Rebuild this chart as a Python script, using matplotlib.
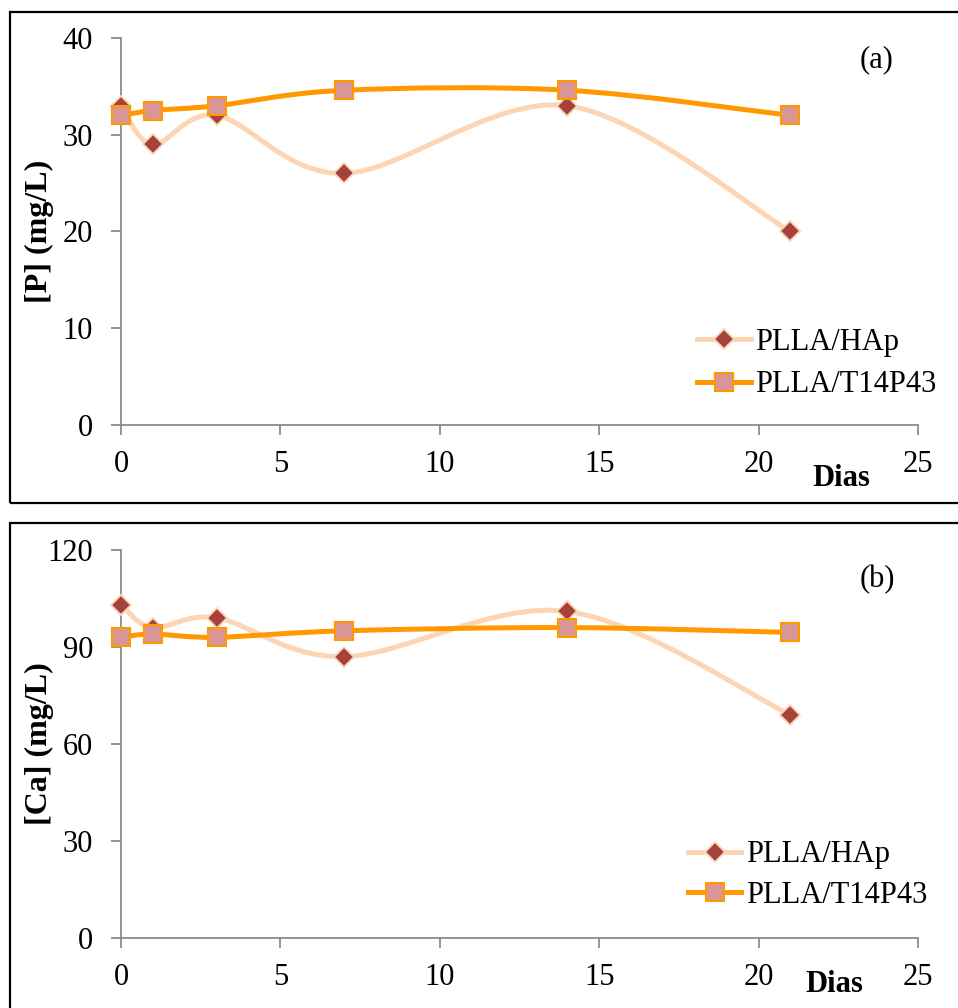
import matplotlib
matplotlib.use('Agg')
import matplotlib.pyplot as plt
from matplotlib.path import Path
from matplotlib.patches import PathPatch, Rectangle
from matplotlib.lines import Line2D

plt.rcParams['font.family'] = ['Liberation Serif', 'DejaVu Serif']

# Data
dias = [0, 1, 3, 7, 14, 21]
p_hap = [33, 29, 32, 26, 33, 20]
p_t14 = [32, 32.5, 33, 34.6, 34.6, 32]
ca_hap = [103, 96, 99, 87, 101, 69]
ca_t14 = [93, 94, 93, 95, 96, 94.5]

serie_labels = ['PLLA/HAp', 'PLLA/T14P43']

# Styles
peach = '#FCD5B5'
dark_red = '#A5423E'
orange = '#FF9900'
pink = '#D99694'
gray = '#8C8C8C'
fs = 22


def smooth_path(x, y):
    # Excel-like smoothed line: Bezier segments with Catmull-Rom control points
    pts = list(zip(x, y))
    n = len(pts)
    verts = [pts[0]]
    codes = [Path.MOVETO]
    for i in range(n - 1):
        p0 = pts[i - 1] if i > 0 else pts[i]
        p1 = pts[i]
        p2 = pts[i + 1]
        p3 = pts[i + 2] if i + 2 < n else pts[i + 1]
        c1 = (p1[0] + (p2[0] - p0[0]) / 6, p1[1] + (p2[1] - p0[1]) / 6)
        c2 = (p2[0] - (p3[0] - p1[0]) / 6, p2[1] - (p3[1] - p1[1]) / 6)
        verts += [c1, c2, p2]
        codes += [Path.CURVE4] * 3
    return Path(verts, codes)


def draw_panel(ax, hap, t14, ymax, ystep, ylabel, leg_anchor, leg_space):
    ax.add_patch(PathPatch(smooth_path(dias, hap), fill=False, edgecolor=peach,
                           lw=3.6, capstyle='round', zorder=2))
    ax.plot(dias, hap, ls='none', marker='D', ms=10, mfc=dark_red, mec=peach,
            mew=1.3, zorder=3, clip_on=False)
    ax.add_patch(PathPatch(smooth_path(dias, t14), fill=False, edgecolor=orange,
                           lw=3.6, capstyle='round', zorder=4))
    ax.plot(dias, t14, ls='none', marker='s', ms=13.5, mfc=pink, mec=orange,
            mew=1.5, zorder=5, clip_on=False)

    ax.set_xlim(0, 25)
    ax.set_ylim(0, ymax)
    ax.set_xticks(range(0, 26, 5))
    ax.set_yticks(range(0, ymax + 1, ystep))
    for s in ['top', 'right']:
        ax.spines[s].set_visible(False)
    for s in ['left', 'bottom']:
        ax.spines[s].set_color(gray)
        ax.spines[s].set_linewidth(1.3)
    ax.tick_params(direction='out', length=7, width=1.3, color=gray,
                   labelsize=fs)
    ax.tick_params(axis='x', pad=11)
    ax.tick_params(axis='y', pad=13)
    ax.set_ylabel(ylabel, fontsize=23, fontweight='bold')
    ax.yaxis.set_label_coords(-0.084, 0.5)

    handles = [
        Line2D([], [], color=peach, lw=3.6, marker='D', ms=10, mfc=dark_red,
               mec=peach, mew=1.3),
        Line2D([], [], color=orange, lw=3.6, marker='s', ms=13.5, mfc=pink,
               mec=orange, mew=1.5),
    ]
    fig.legend(handles, serie_labels, loc='center left',
               bbox_to_anchor=leg_anchor, bbox_transform=fig.transFigure,
               frameon=False, fontsize=fs, handlelength=1.75,
               handletextpad=0.15, labelspacing=leg_space, borderpad=0,
               borderaxespad=0, numpoints=1)


fig = plt.figure(figsize=(9.58, 10.08), dpi=100)
ax1 = fig.add_axes([0.1263, 0.5784, 0.8319, 0.3839])
ax2 = fig.add_axes([0.1263, 0.0694, 0.8319, 0.3850])

draw_panel(ax1, p_hap, p_t14, 40, 10, '[P] (mg/L)', (0.728, 0.6394), 0.45)
draw_panel(ax2, ca_hap, ca_t14, 120, 30, '[Ca] (mg/L)', (0.718, 0.1319), 0.38)

# panel frames
fig.patches.append(Rectangle((0.0104, 0.501), 1.0, 0.487, transform=fig.transFigure,
                             fill=False, edgecolor='black', lw=1.6))
fig.patches.append(Rectangle((0.0104, -0.05), 1.0, 0.5312, transform=fig.transFigure,
                             fill=False, edgecolor='black', lw=1.6))

fig.text(877 / 958, 1 - 60 / 1008, '(a)', fontsize=fs, ha='center', va='center')
fig.text(877 / 958, 1 - 580 / 1008, '(b)', fontsize=fs, ha='center', va='center')
fig.text(841 / 958, 1 - 478 / 1008, 'Dias', fontsize=fs, fontweight='bold',
         ha='center', va='center')
fig.text(834 / 958, 1 - 984 / 1008, 'Dias', fontsize=fs, fontweight='bold',
         ha='center', va='center')

fig.savefig('out.png', dpi=100)
